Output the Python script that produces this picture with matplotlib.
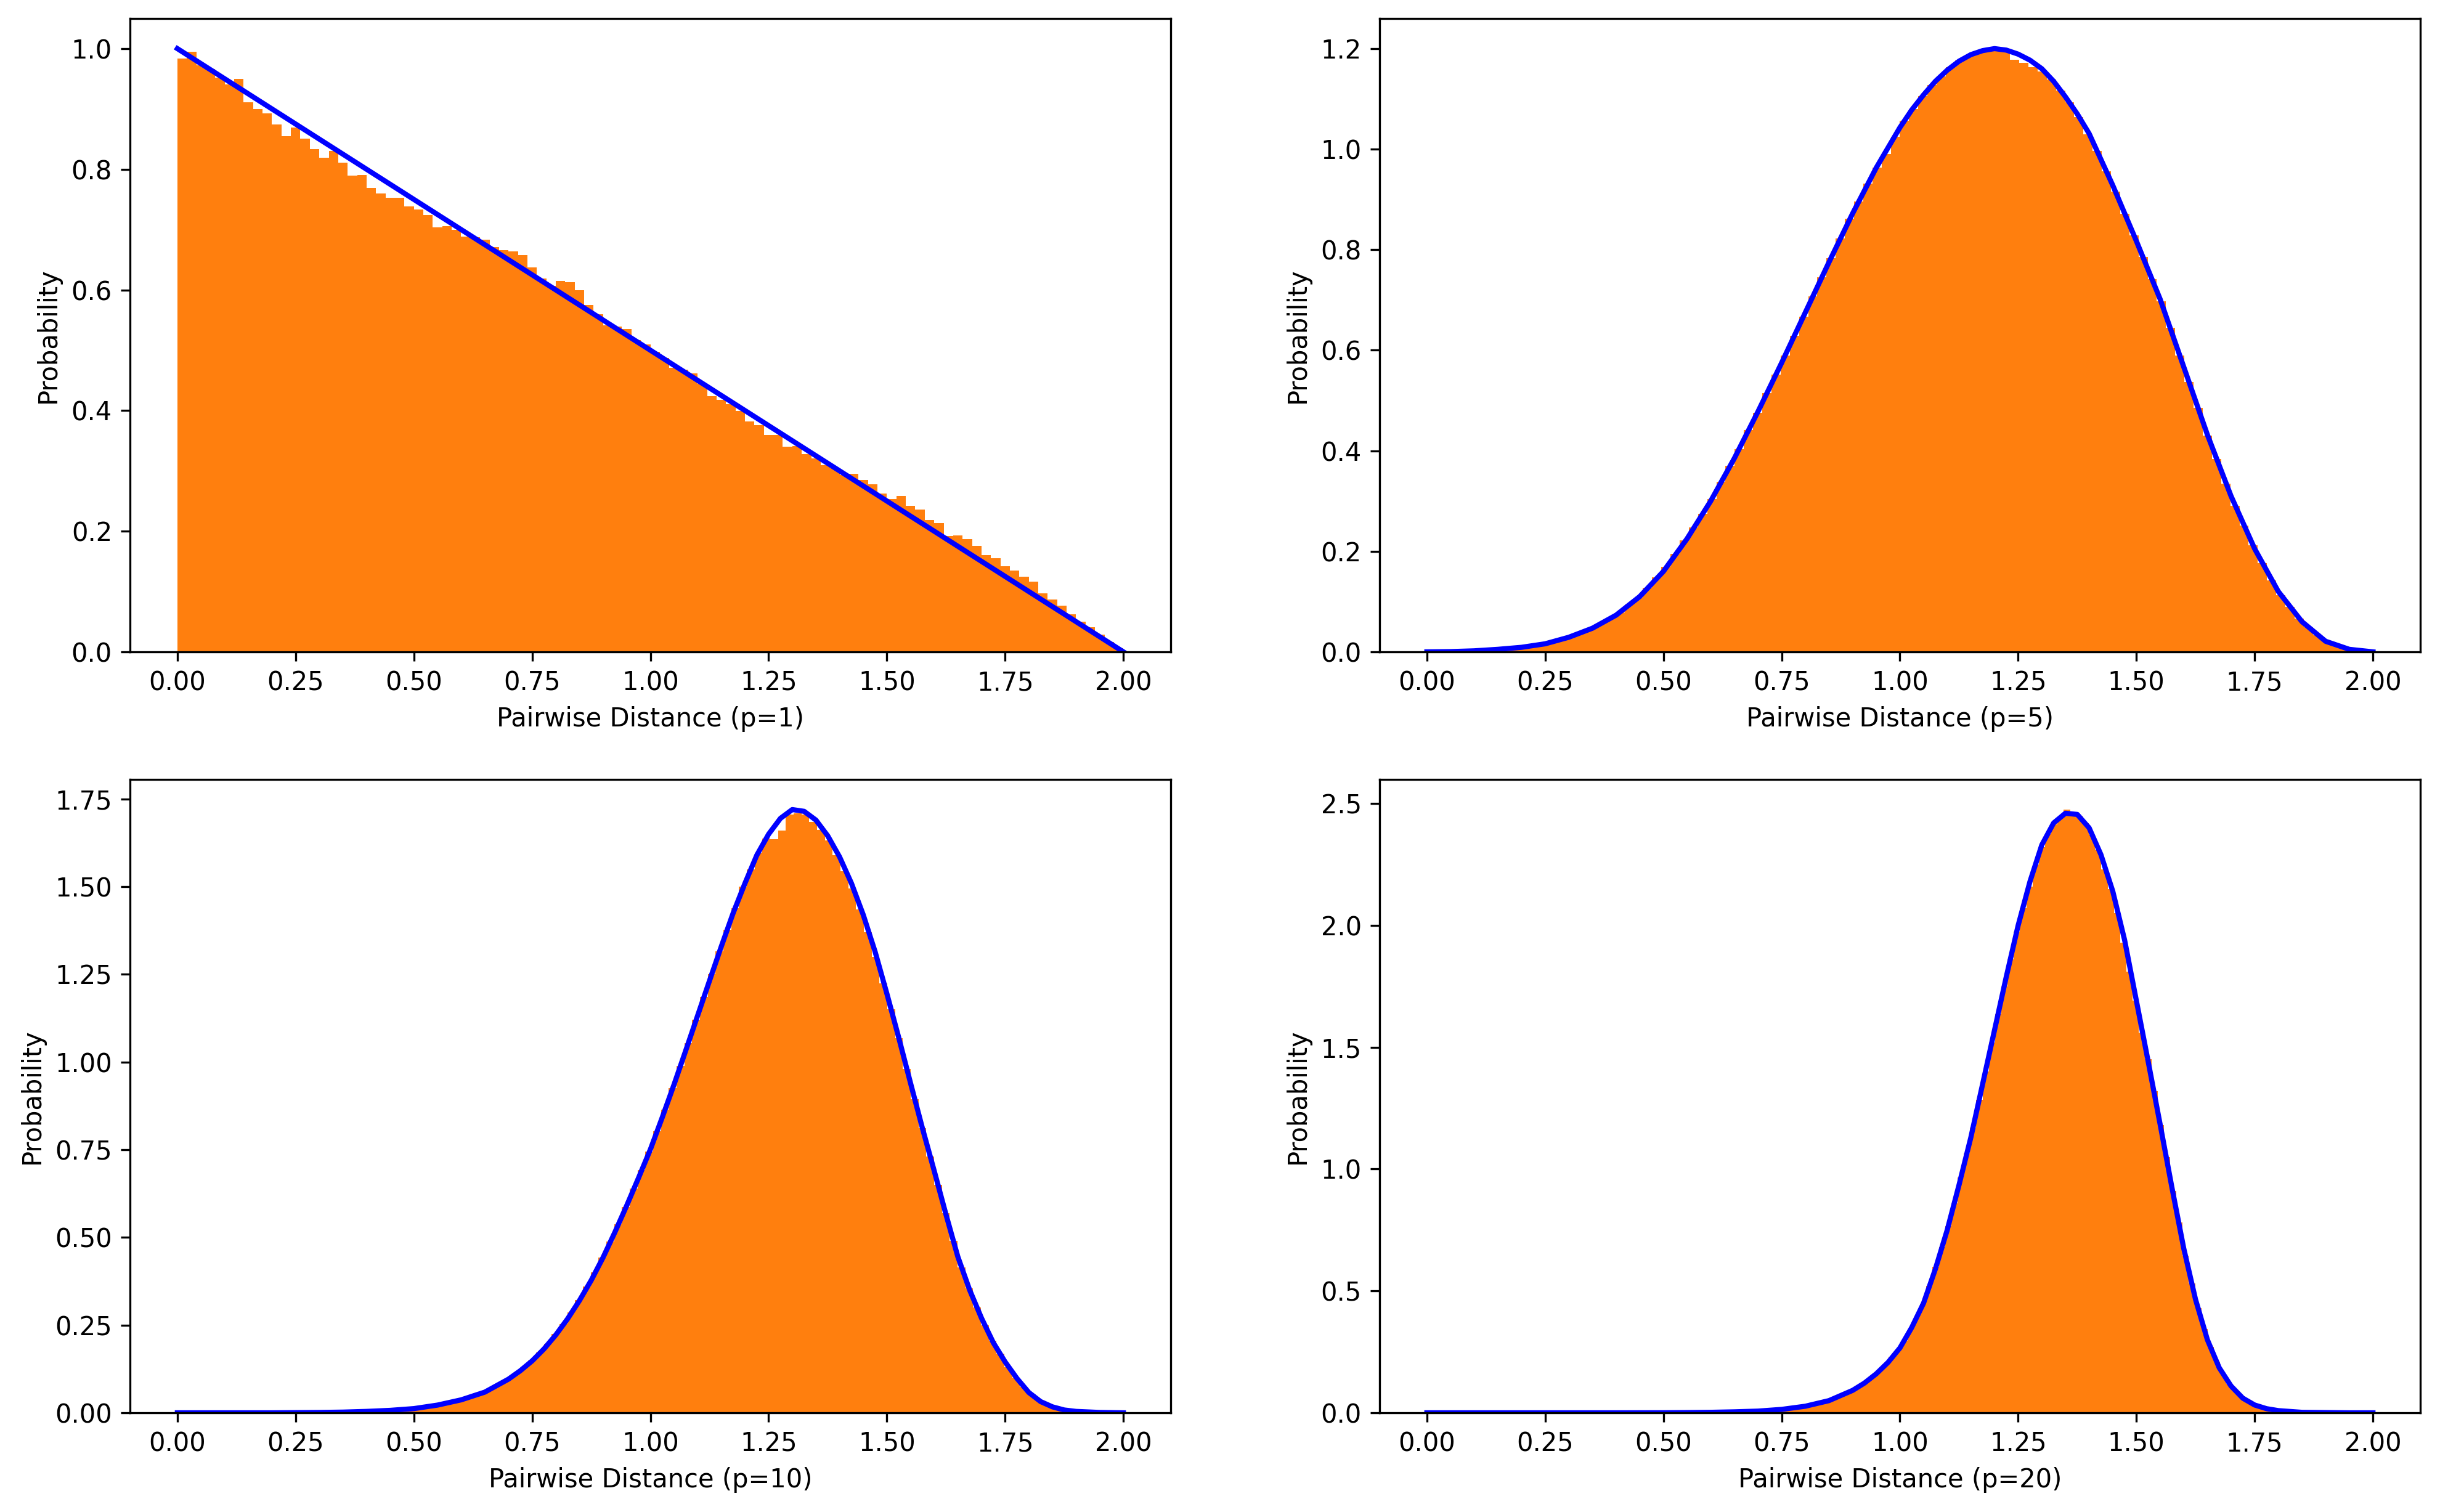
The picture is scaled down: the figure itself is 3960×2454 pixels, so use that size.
import numpy as np
import matplotlib
matplotlib.use("Agg")
import matplotlib.pyplot as plt

# ---------------- data ----------------
dims = [1, 5, 10, 20]
n_bins = 100
hist_ranges = {1: (0.0, 2.0), 5: (0.03, 1.97), 10: (0.28, 1.93), 20: (0.593, 1.915)}

heights_p1 = [
    0.984, 0.995, 0.972, 0.966, 0.952, 0.941, 0.950, 0.911, 0.900, 0.893,
    0.874, 0.855, 0.869, 0.851, 0.833, 0.819, 0.830, 0.811, 0.789, 0.790,
    0.769, 0.760, 0.753, 0.753, 0.738, 0.733, 0.724, 0.704, 0.706, 0.700,
    0.688, 0.687, 0.683, 0.671, 0.666, 0.664, 0.658, 0.637, 0.619, 0.607,
    0.615, 0.613, 0.600, 0.575, 0.560, 0.541, 0.539, 0.535, 0.517, 0.510,
    0.497, 0.487, 0.471, 0.468, 0.462, 0.444, 0.424, 0.418, 0.411, 0.399,
    0.382, 0.376, 0.359, 0.359, 0.340, 0.341, 0.328, 0.321, 0.309, 0.304,
    0.293, 0.295, 0.285, 0.278, 0.262, 0.253, 0.258, 0.242, 0.236, 0.219,
    0.213, 0.192, 0.193, 0.187, 0.176, 0.160, 0.155, 0.142, 0.135, 0.125,
    0.116, 0.097, 0.087, 0.077, 0.062, 0.050, 0.041, 0.029, 0.016, 0.006,
]

heights_p5 = [
    0.0003, 0.0006, 0.001, 0.002, 0.003, 0.004, 0.005, 0.007, 0.009, 0.011,
    0.013, 0.016, 0.022, 0.028, 0.034, 0.040, 0.047, 0.057, 0.067, 0.079,
    0.094, 0.108, 0.127, 0.148, 0.169, 0.195, 0.222, 0.248, 0.275, 0.304,
    0.338, 0.370, 0.403, 0.441, 0.476, 0.515, 0.552, 0.590, 0.629, 0.667,
    0.707, 0.745, 0.783, 0.822, 0.862, 0.896, 0.932, 0.963, 0.990, 1.024,
    1.056, 1.080, 1.105, 1.127, 1.145, 1.163, 1.176, 1.186, 1.193, 1.196,
    1.198, 1.194, 1.178, 1.172, 1.163, 1.155, 1.138, 1.116, 1.093, 1.064,
    1.030, 0.996, 0.956, 0.915, 0.872, 0.828, 0.785, 0.742, 0.697, 0.645,
    0.590, 0.537, 0.485, 0.430, 0.383, 0.335, 0.290, 0.251, 0.212, 0.177,
    0.142, 0.113, 0.090, 0.066, 0.049, 0.033, 0.020, 0.013, 0.007, 0.003,
]

heights_p10 = [
    0.001, 0.001, 0.001, 0.002, 0.002, 0.003, 0.003, 0.004, 0.005, 0.006,
    0.007, 0.009, 0.011, 0.013, 0.016, 0.019, 0.023, 0.027, 0.033, 0.038,
    0.045, 0.053, 0.061, 0.071, 0.084, 0.098, 0.113, 0.131, 0.150, 0.172,
    0.197, 0.225, 0.253, 0.287, 0.322, 0.360, 0.400, 0.443, 0.488, 0.537,
    0.587, 0.640, 0.692, 0.745, 0.803, 0.864, 0.926, 0.989, 1.054, 1.120,
    1.185, 1.250, 1.316, 1.378, 1.438, 1.500, 1.550, 1.597, 1.638, 1.635,
    1.660, 1.705, 1.710, 1.705, 1.685, 1.662, 1.632, 1.590, 1.545, 1.495,
    1.435, 1.370, 1.300, 1.225, 1.150, 1.068, 0.980, 0.894, 0.812, 0.730,
    0.650, 0.570, 0.490, 0.415, 0.355, 0.300, 0.250, 0.205, 0.168, 0.130,
    0.100, 0.074, 0.052, 0.036, 0.025, 0.016, 0.010, 0.006, 0.004, 0.002,
]

heights_p20 = [
    0.002, 0.002, 0.003, 0.003, 0.004, 0.005, 0.005, 0.006, 0.008, 0.009,
    0.011, 0.013, 0.016, 0.019, 0.022, 0.026, 0.032, 0.038, 0.044, 0.051,
    0.061, 0.072, 0.083, 0.097, 0.114, 0.132, 0.151, 0.173, 0.200, 0.230,
    0.258, 0.297, 0.345, 0.395, 0.448, 0.520, 0.600, 0.680, 0.765, 0.860,
    0.965, 1.065, 1.170, 1.285, 1.400, 1.520, 1.635, 1.750, 1.860, 1.975,
    2.070, 2.160, 2.250, 2.320, 2.375, 2.415, 2.440, 2.475, 2.460, 2.450,
    2.420, 2.370, 2.310, 2.230, 2.150, 2.050, 1.930, 1.810, 1.690, 1.560,
    1.450, 1.320, 1.180, 1.050, 0.910, 0.780, 0.645, 0.530, 0.430, 0.345,
    0.270, 0.210, 0.160, 0.120, 0.090, 0.069, 0.052, 0.038, 0.028, 0.020,
    0.015, 0.011, 0.008, 0.006, 0.004, 0.003, 0.002, 0.002, 0.001, 0.001,
]

curve_x_p1 = [0.0, 2.0]
curve_y_p1 = [1.0, 0.0]

curve_x_p5 = [0.0, 0.05, 0.1, 0.15, 0.2, 0.25, 0.3, 0.35, 0.4, 0.45, 0.5, 0.55,
              0.6, 0.65, 0.7, 0.75, 0.8, 0.85, 0.9, 0.95, 1.0, 1.025, 1.05,
              1.075, 1.1, 1.125, 1.15, 1.175, 1.2, 1.225, 1.25, 1.275, 1.3,
              1.325, 1.35, 1.375, 1.4, 1.45, 1.5, 1.55, 1.6, 1.65, 1.7, 1.75,
              1.8, 1.85, 1.9, 1.95, 2.0]
curve_y_p5 = [0.0, 0.0005, 0.002, 0.005, 0.009, 0.016, 0.029, 0.047, 0.073, 0.110,
              0.160, 0.225, 0.300, 0.385, 0.478, 0.575, 0.675, 0.775, 0.872,
              0.963, 1.043, 1.078, 1.108, 1.135, 1.157, 1.175, 1.188, 1.196,
              1.200, 1.197, 1.189, 1.177, 1.160, 1.135, 1.104, 1.070, 1.031,
              0.928, 0.817, 0.702, 0.567, 0.432, 0.310, 0.205, 0.120, 0.060,
              0.021, 0.005, 0.0]

curve_x_p10 = [0.0, 0.1, 0.2, 0.3, 0.35, 0.4, 0.45, 0.5, 0.55, 0.6, 0.65, 0.7,
               0.725, 0.75, 0.775, 0.8, 0.825, 0.85, 0.875, 0.9, 0.925, 0.95,
               0.975, 1.0, 1.025, 1.05, 1.075, 1.1, 1.125, 1.15, 1.175, 1.2,
               1.225, 1.25, 1.275, 1.3, 1.325, 1.35, 1.375, 1.4, 1.425, 1.45,
               1.475, 1.5, 1.525, 1.55, 1.575, 1.6, 1.625, 1.65, 1.675, 1.7,
               1.725, 1.75, 1.775, 1.8, 1.825, 1.85, 1.875, 1.9, 1.95, 2.0]
curve_y_p10 = [0.0, 0.0, 0.0, 0.001, 0.002, 0.004, 0.007, 0.012, 0.022, 0.037,
               0.059, 0.096, 0.120, 0.148, 0.182, 0.222, 0.268, 0.320, 0.378,
               0.443, 0.515, 0.591, 0.670, 0.751, 0.842, 0.936, 1.034, 1.133,
               1.232, 1.330, 1.425, 1.510, 1.590, 1.650, 1.695, 1.720, 1.715,
               1.690, 1.645, 1.585, 1.510, 1.420, 1.315, 1.195, 1.070, 0.940,
               0.812, 0.690, 0.565, 0.445, 0.350, 0.270, 0.200, 0.145, 0.098,
               0.058, 0.032, 0.017, 0.008, 0.004, 0.001, 0.0]

curve_x_p20 = [0.0, 0.1, 0.2, 0.3, 0.4, 0.5, 0.55, 0.6, 0.65, 0.7, 0.75, 0.8,
               0.85, 0.9, 0.925, 0.95, 0.975, 1.0, 1.025, 1.05, 1.075, 1.1,
               1.125, 1.15, 1.175, 1.2, 1.225, 1.25, 1.275, 1.3, 1.325, 1.35,
               1.375, 1.4, 1.425, 1.45, 1.475, 1.5, 1.525, 1.55, 1.575, 1.6,
               1.625, 1.65, 1.675, 1.7, 1.725, 1.75, 1.775, 1.8, 1.85, 1.9,
               1.95, 2.0]
curve_y_p20 = [0.0, 0.0, 0.0, 0.0, 0.0, 0.0003, 0.001, 0.002, 0.004, 0.007,
               0.014, 0.027, 0.050, 0.092, 0.122, 0.160, 0.207, 0.266, 0.350,
               0.450, 0.590, 0.750, 0.935, 1.130, 1.350, 1.570, 1.790, 2.000,
               2.180, 2.330, 2.420, 2.460, 2.455, 2.400, 2.290, 2.140, 1.940,
               1.690, 1.440, 1.185, 0.925, 0.675, 0.465, 0.300, 0.185, 0.110,
               0.060, 0.032, 0.017, 0.009, 0.002, 0.001, 0.0, 0.0]

heights = {1: heights_p1, 5: heights_p5, 10: heights_p10, 20: heights_p20}
curves = {1: (curve_x_p1, curve_y_p1), 5: (curve_x_p5, curve_y_p5),
          10: (curve_x_p10, curve_y_p10), 20: (curve_x_p20, curve_y_p20)}

# ---------------- plotting ----------------
fig, axes = plt.subplots(2, 2, figsize=(13.2, 8.18), dpi=300)
fig.subplots_adjust(left=0.0533, right=0.9919, top=0.9878, bottom=0.0656,
                    wspace=0.2007, hspace=0.2014)

for ax, p in zip(axes.flat, dims):
    lo, hi = hist_ranges[p]
    edges = np.linspace(lo, hi, n_bins + 1)
    ax.hist(edges[:-1], bins=edges, weights=heights[p], color="C1")
    cx, cy = curves[p]
    ax.plot(cx, cy, color="blue", lw=2)
    ax.set_xlabel(f"Pairwise Distance (p={p})")
    ax.set_ylabel("Probability")

fig.savefig("out.png", dpi=300)
